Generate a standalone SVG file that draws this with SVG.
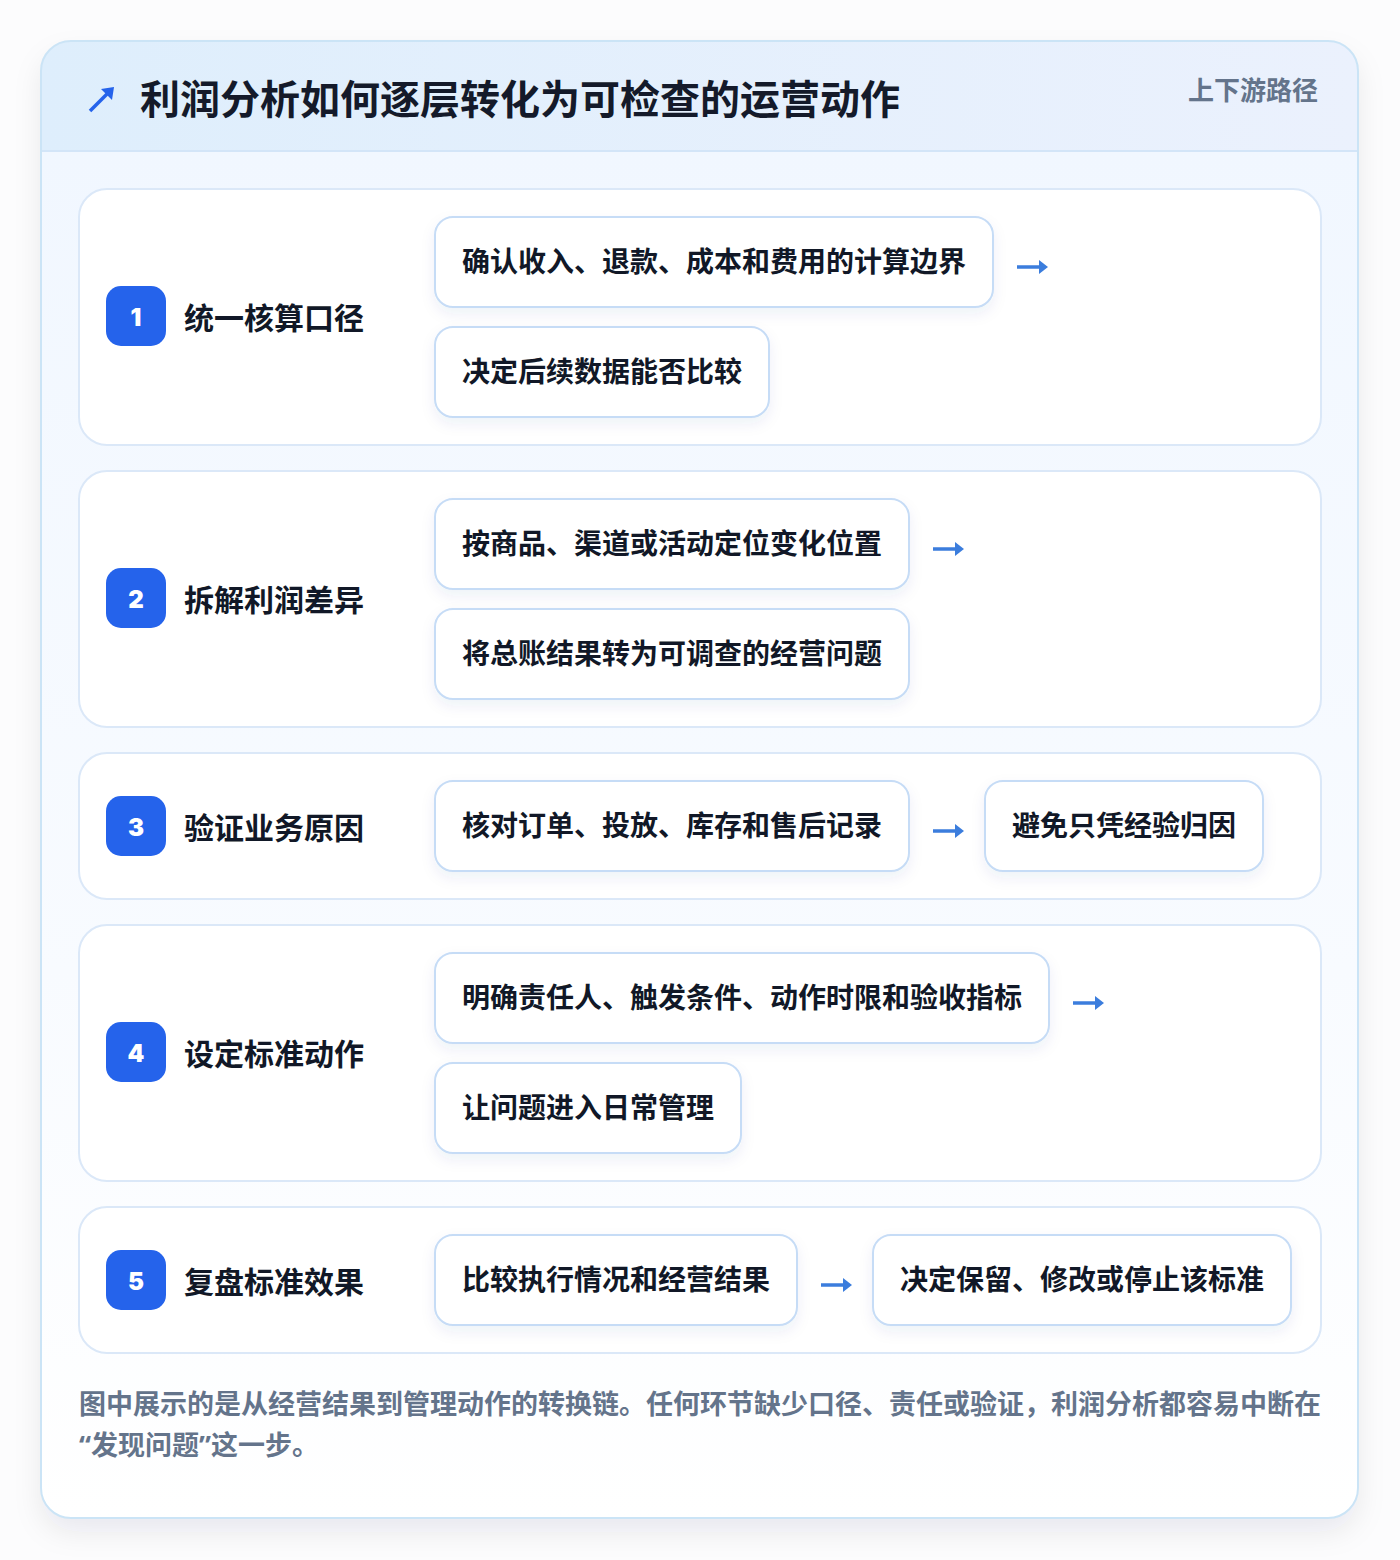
<svg xmlns="http://www.w3.org/2000/svg" width="1400" height="1560" viewBox="0 0 1400 1560">
<defs>
<linearGradient id="hdr" x1="0" y1="0" x2="1" y2="0"><stop offset="0" stop-color="#deeefc"/><stop offset="1" stop-color="#ebf1fd"/></linearGradient>
<linearGradient id="body" x1="0" y1="0" x2="0" y2="1"><stop offset="0" stop-color="#f1f7ff"/><stop offset="0.6" stop-color="#f8fbff"/><stop offset="1" stop-color="#ffffff"/></linearGradient>
<filter id="sh" x="-10%" y="-10%" width="120%" height="120%"><feDropShadow dx="0" dy="14" stdDeviation="14" flood-color="#1e293b" flood-opacity="0.08"/></filter>
<filter id="bs" x="-20%" y="-30%" width="140%" height="160%"><feDropShadow dx="0" dy="6" stdDeviation="7" flood-color="#1e3a8a" flood-opacity="0.07"/></filter>
<clipPath id="cc"><rect x="41" y="41" width="1317" height="1477" rx="30"/></clipPath>
</defs>
<style>
.t{font-family:"Noto Sans CJK SC","Noto Sans",sans-serif;font-weight:700}
.row{fill:#ffffff;stroke:#dbe8f8;stroke-width:2}
.box{fill:#ffffff;stroke:#c6dcf6;stroke-width:2;filter:url(#bs)}
.bt{font-size:28px;fill:#111827;dominant-baseline:central}
.lab{font-size:30px;fill:#111827;dominant-baseline:central}
.badge{fill:#2563eb}
.num{font-family:"Inter","Noto Sans",sans-serif;font-weight:900;font-size:24px;fill:#ffffff;text-anchor:middle;dominant-baseline:central}
.arr{fill:none;stroke:#3b7ddd;stroke-width:3.5;stroke-linecap:butt}
.ah{fill:#3b7ddd}
.foot{font-size:27px;fill:#64748b}
.q{font-family:"Noto Sans","Liberation Sans",sans-serif;font-weight:700}
</style>
<rect width="1400" height="1560" fill="#fcfcfd"/>
<g id="card">
<rect x="41" y="41" width="1317" height="1477" rx="30" fill="#ffffff" filter="url(#sh)"/>
<g clip-path="url(#cc)">
<rect x="41" y="151" width="1317" height="1367" fill="url(#body)"/>
<rect x="41" y="41" width="1317" height="110" fill="url(#hdr)"/>
<line x1="41" y1="151" x2="1358" y2="151" stroke="#d3e5f8" stroke-width="2"/>
</g>
<rect x="41" y="41" width="1317" height="1477" rx="30" fill="none" stroke="#cbe4f6" stroke-width="2"/>
</g>
<g id="header">
<path d="M90 111 L110 91" stroke="#2563eb" stroke-width="3.5" fill="none"/>
<path d="M114 87 L112 100 L101 89 Z" fill="#2563eb"/>
<text class="t" x="140" y="97" font-size="40" font-weight="900" fill="#141a2a" dominant-baseline="central">利润分析如何逐层转化为可检查的运营动作</text>
<text class="t" x="1318" y="88" font-size="26" fill="#64748b" text-anchor="end" dominant-baseline="central">上下游路径</text>
</g>

<g id="row1">
<rect class="row" x="79" y="189" width="1242" height="256" rx="28"/>
<rect class="badge" x="106" y="286" width="60" height="60" rx="15"/>
<text class="num" x="136" y="317">1</text>
<text class="t lab" x="184" y="316">统一核算口径</text>
</g>
<g id="n1a"><rect class="box" x="435" y="217" width="558" height="90" rx="18"/><text class="t bt" x="462" y="260">确认收入、退款、成本和费用的计算边界</text></g>
<g id="n1b"><rect class="box" x="435" y="327" width="334" height="90" rx="18"/><text class="t bt" x="462" y="370">决定后续数据能否比较</text></g>

<g id="row2">
<rect class="row" x="79" y="471" width="1242" height="256" rx="28"/>
<rect class="badge" x="106" y="568" width="60" height="60" rx="15"/>
<text class="num" x="136" y="599">2</text>
<text class="t lab" x="184" y="598">拆解利润差异</text>
</g>
<g id="n2a"><rect class="box" x="435" y="499" width="474" height="90" rx="18"/><text class="t bt" x="462" y="542">按商品、渠道或活动定位变化位置</text></g>
<g id="n2b"><rect class="box" x="435" y="609" width="474" height="90" rx="18"/><text class="t bt" x="462" y="652">将总账结果转为可调查的经营问题</text></g>

<g id="row3">
<rect class="row" x="79" y="753" width="1242" height="146" rx="28"/>
<rect class="badge" x="106" y="796" width="60" height="60" rx="15"/>
<text class="num" x="136" y="827">3</text>
<text class="t lab" x="184" y="826">验证业务原因</text>
</g>
<g id="n3a"><rect class="box" x="435" y="781" width="474" height="90" rx="18"/><text class="t bt" x="462" y="824">核对订单、投放、库存和售后记录</text></g>
<g id="n3b"><rect class="box" x="985" y="781" width="278" height="90" rx="18"/><text class="t bt" x="1012" y="824">避免只凭经验归因</text></g>

<g id="row4">
<rect class="row" x="79" y="925" width="1242" height="256" rx="28"/>
<rect class="badge" x="106" y="1022" width="60" height="60" rx="15"/>
<text class="num" x="136" y="1053">4</text>
<text class="t lab" x="184" y="1052">设定标准动作</text>
</g>
<g id="n4a"><rect class="box" x="435" y="953" width="614" height="90" rx="18"/><text class="t bt" x="462" y="996">明确责任人、触发条件、动作时限和验收指标</text></g>
<g id="n4b"><rect class="box" x="435" y="1063" width="306" height="90" rx="18"/><text class="t bt" x="462" y="1106">让问题进入日常管理</text></g>

<g id="row5">
<rect class="row" x="79" y="1207" width="1242" height="146" rx="28"/>
<rect class="badge" x="106" y="1250" width="60" height="60" rx="15"/>
<text class="num" x="136" y="1281">5</text>
<text class="t lab" x="184" y="1280">复盘标准效果</text>
</g>
<g id="n5a"><rect class="box" x="435" y="1235" width="362" height="90" rx="18"/><text class="t bt" x="462" y="1278">比较执行情况和经营结果</text></g>
<g id="n5b"><rect class="box" x="873" y="1235" width="418" height="90" rx="18"/><text class="t bt" x="900" y="1278">决定保留、修改或停止该标准</text></g>

<g id="connectors">
<path class="arr" d="M1017 267 H1041"/><path class="ah" d="M1039 260 L1048 267 L1039 274 Z"/>
<path class="arr" d="M933 549 H957"/><path class="ah" d="M955 542 L964 549 L955 556 Z"/>
<path class="arr" d="M933 831 H957"/><path class="ah" d="M955 824 L964 831 L955 838 Z"/>
<path class="arr" d="M1073 1003 H1097"/><path class="ah" d="M1095 996 L1104 1003 L1095 1010 Z"/>
<path class="arr" d="M821 1285 H845"/><path class="ah" d="M843 1278 L852 1285 L843 1292 Z"/>
</g>

<g id="footer">
<text class="t foot" x="79" y="1414">图中展示的是从经营结果到管理动作的转换链。任何环节缺少口径、责任或验证，利润分析都容易中断在</text>
<text class="t foot" x="79" y="1455"><tspan class="q">“</tspan>发现问题<tspan class="q">”</tspan>这一步。</text>
</g>
</svg>
